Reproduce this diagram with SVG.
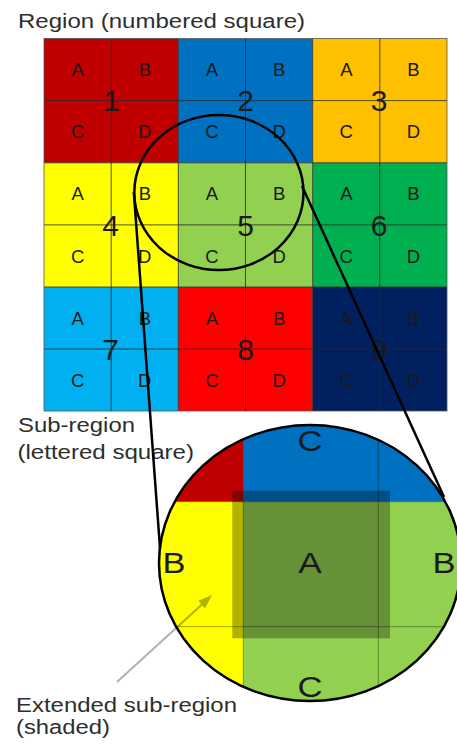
<svg xmlns="http://www.w3.org/2000/svg" width="457" height="744" viewBox="0 0 457 744">
<style>
  text { font-family: "Liberation Sans", Arial, sans-serif; }
  .lbl { font-size: 20px; fill: #2e2e2e; }
  .let { font-size: 18.5px; fill: #1a1a1a; text-anchor: middle; }
  .num { font-size: 30px; fill: #1a1a1a; text-anchor: middle; }
  .big { font-size: 30px; fill: #1a1a1a; text-anchor: middle; }
  .grid { stroke: #2a2a2a; stroke-width: 1; opacity: 0.8; }
  .zgrid { stroke: #000; stroke-width: 1; opacity: 0.35; }
  .conn { stroke: #000; stroke-width: 2.5; fill: none; }
</style>
<defs>
  <clipPath id="zoomClip">
    <ellipse cx="310" cy="563" rx="151" ry="138"/>
  </clipPath>
</defs>
<rect width="457" height="744" fill="#fff"/>

<g id="label-region"><text class="lbl" x="18" y="28" textLength="287" lengthAdjust="spacingAndGlyphs">Region (numbered square)</text></g>

<g id="region-1">
  <rect x="44" y="38.5" width="134.3" height="124.3" fill="#C00000"/>
  <text class="let" x="77.6" y="76.1">A</text><text class="let" x="144.8" y="76.1">B</text>
  <text class="let" x="77.6" y="138.3">C</text><text class="let" x="144.8" y="138.3">D</text>
</g>
<g id="region-2">
  <rect x="178.3" y="38.5" width="134.4" height="124.3" fill="#0070C0"/>
  <text class="let" x="211.9" y="76.1">A</text><text class="let" x="279.1" y="76.1">B</text>
  <text class="let" x="211.9" y="138.3">C</text><text class="let" x="279.1" y="138.3">D</text>
</g>
<g id="region-3">
  <rect x="312.7" y="38.5" width="134.3" height="124.3" fill="#FFC000"/>
  <text class="let" x="346.3" y="76.1">A</text><text class="let" x="413.4" y="76.1">B</text>
  <text class="let" x="346.3" y="138.3">C</text><text class="let" x="413.4" y="138.3">D</text>
</g>
<g id="region-4">
  <rect x="44" y="162.8" width="134.3" height="124.2" fill="#FFFF00"/>
  <text class="let" x="77.6" y="200.4">A</text><text class="let" x="144.8" y="200.4">B</text>
  <text class="let" x="77.6" y="262.5">C</text><text class="let" x="144.8" y="262.5">D</text>
</g>
<g id="region-5">
  <rect x="178.3" y="162.8" width="134.4" height="124.2" fill="#92D050"/>
  <text class="let" x="211.9" y="200.4">A</text><text class="let" x="279.1" y="200.4">B</text>
  <text class="let" x="211.9" y="262.5">C</text><text class="let" x="279.1" y="262.5">D</text>
</g>
<g id="region-6">
  <rect x="312.7" y="162.8" width="134.3" height="124.2" fill="#00B050"/>
  <text class="let" x="346.3" y="200.4">A</text><text class="let" x="413.4" y="200.4">B</text>
  <text class="let" x="346.3" y="262.5">C</text><text class="let" x="413.4" y="262.5">D</text>
</g>
<g id="region-7">
  <rect x="44" y="287" width="134.3" height="124" fill="#00B0F0"/>
  <text class="let" x="77.6" y="324.6">A</text><text class="let" x="144.8" y="324.6">B</text>
  <text class="let" x="77.6" y="386.7">C</text><text class="let" x="144.8" y="386.7">D</text>
</g>
<g id="region-8">
  <rect x="178.3" y="287" width="134.4" height="124" fill="#FF0000"/>
  <text class="let" x="211.9" y="324.6">A</text><text class="let" x="279.1" y="324.6">B</text>
  <text class="let" x="211.9" y="386.7">C</text><text class="let" x="279.1" y="386.7">D</text>
</g>
<g id="region-9">
  <rect x="312.7" y="287" width="134.3" height="124" fill="#002060"/>
  <text class="let" x="346.3" y="324.6">A</text><text class="let" x="413.4" y="324.6">B</text>
  <text class="let" x="346.3" y="386.7">C</text><text class="let" x="413.4" y="386.7">D</text>
</g>

<g id="grid-lines">
  <line class="grid" x1="111.2" y1="38.5" x2="111.2" y2="411"/>
  <line class="grid" x1="178.3" y1="38.5" x2="178.3" y2="411"/>
  <line class="grid" x1="245.5" y1="38.5" x2="245.5" y2="411"/>
  <line class="grid" x1="312.7" y1="38.5" x2="312.7" y2="411"/>
  <line class="grid" x1="379.8" y1="38.5" x2="379.8" y2="411"/>
  <line class="grid" x1="44" y1="100.6" x2="447" y2="100.6"/>
  <line class="grid" x1="44" y1="162.8" x2="447" y2="162.8"/>
  <line class="grid" x1="44" y1="224.9" x2="447" y2="224.9"/>
  <line class="grid" x1="44" y1="287" x2="447" y2="287"/>
  <line class="grid" x1="44" y1="349" x2="447" y2="349"/>
  <rect x="44" y="38.5" width="403" height="372.5" fill="none" stroke="#555" stroke-width="0.8"/>
</g>

<g id="region-numbers">
  <text class="num" x="111.5" y="111.3">1</text>
  <text class="num" x="245.5" y="111.3">2</text>
  <text class="num" x="379" y="111.3">3</text>
  <text class="num" x="110.5" y="235.6">4</text>
  <text class="num" x="245.5" y="235.6">5</text>
  <text class="num" x="379" y="235.6">6</text>
  <text class="num" x="110.5" y="359.7">7</text>
  <text class="num" x="245.5" y="359.7">8</text>
  <text class="num" x="379" y="359.7">9</text>
</g>

<g id="focus-circle">
  <ellipse cx="218.9" cy="192.5" rx="84.6" ry="77.5" fill="none" stroke="#000" stroke-width="2.5"/>
</g>

<g id="label-subregion">
  <text class="lbl" x="18" y="431.7" textLength="117" lengthAdjust="spacingAndGlyphs">Sub-region</text>
  <text class="lbl" x="17.5" y="458.5" textLength="176.5" lengthAdjust="spacingAndGlyphs">(lettered square)</text>
</g>

<g id="zoom-circle">
  <g clip-path="url(#zoomClip)">
    <rect x="150" y="420" width="93.3" height="81.7" fill="#C00000"/>
    <rect x="243.3" y="420" width="220" height="81.7" fill="#0070C0"/>
    <rect x="150" y="501.7" width="93.3" height="210" fill="#FFFF00"/>
    <rect x="243.3" y="501.7" width="220" height="210" fill="#92D050"/>
    <line class="zgrid" x1="243.3" y1="420" x2="243.3" y2="710"/>
    <line class="zgrid" x1="378.3" y1="420" x2="378.3" y2="710"/>
    <line class="zgrid" x1="150" y1="501.7" x2="465" y2="501.7"/>
    <line class="zgrid" x1="150" y1="626.7" x2="465" y2="626.7"/>
    <rect id="extended-subregion" x="232.3" y="490.7" width="157.7" height="147.6" fill="#000" fill-opacity="0.3"/>
  </g>
  <ellipse cx="310" cy="563" rx="151" ry="138" fill="none" stroke="#000" stroke-width="2.5"/>
  <text class="big" x="310" y="450.7" textLength="25" lengthAdjust="spacingAndGlyphs">C</text>
  <text class="big" x="174" y="573.2" textLength="23" lengthAdjust="spacingAndGlyphs">B</text>
  <text class="big" x="310" y="573.2" textLength="23.5" lengthAdjust="spacingAndGlyphs">A</text>
  <text class="big" x="444" y="573.2" textLength="23" lengthAdjust="spacingAndGlyphs">B</text>
  <text class="big" x="310" y="697.4" textLength="25" lengthAdjust="spacingAndGlyphs">C</text>
</g>

<g id="label-extended">
  <text class="lbl" x="16" y="711.7" textLength="221" lengthAdjust="spacingAndGlyphs">Extended sub-region</text>
  <text class="lbl" x="16" y="734" textLength="94" lengthAdjust="spacingAndGlyphs">(shaded)</text>
</g>

<g id="connectors">
  <line class="conn" x1="133.8" y1="192" x2="160" y2="548"/>
  <line class="conn" x1="302" y1="186" x2="444" y2="497"/>
  <g opacity="0.3">
    <line x1="117" y1="682" x2="203" y2="603.5" stroke="#000" stroke-width="2"/>
    <polygon points="212,595 205.1,608.2 198.3,600.8" fill="#000"/>
  </g>
</g>
</svg>
